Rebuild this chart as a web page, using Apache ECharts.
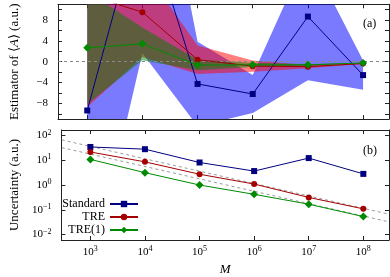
<!DOCTYPE html>
<html><head><meta charset="utf-8">
<script src="https://cdn.jsdelivr.net/npm/echarts@6/dist/echarts.min.js"></script>
<style>html,body{margin:0;padding:0;background:#fff}#c{width:390px;height:277px}</style>
</head><body><div id="c"></div>
<script>
// ---- data ----
const M = [1e3, 1e4, 1e5, 1e6, 1e7, 1e8];
const estStandard = [-9.35, 29.5, -4.26, -6.19, 8.65, -2.57];
const estTRE = [12.8, 9.5, 0.38, -0.85, -0.95, -0.35];
const estTRE1 = [2.65, 3.42, -0.64, -0.6, -0.6, -0.25];
const uncStandard = [34.3, 27.9, 8.1, 3.65, 12.2, 2.81];
const uncTRE = [21.5, 8.6, 2.72, 1.09, 0.315, 0.109];
const uncTRE1 = [10.8, 3.15, 1.0, 0.42, 0.168, 0.053];
const refM = [300, 3e8];
const refUpper = [66, 0.066];
const refLower = [32.3, 0.0323];
const trueValue = 0;
const estTicks = [-10, -8, -6, -4, -2, 0, 2, 4, 6, 8, 10];
const estLabels = [-8, -4, 0, 4, 8];
const mExponents = [3, 4, 5, 6, 7, 8];
const uncExponents = [-2, -1, 0, 1, 2];
const seriesNames = ['Standard', 'TRE', 'TRE(1)'];

// ---- style ----
const FONT = 'Liberation Serif';
const C_STD = '#000080', C_TRE = '#a50000', C_TRE1 = '#008a00';
const B_STD = 'rgba(0,0,255,0.52)', B_TRE = 'rgba(255,0,0,0.5)', B_TRE1 = 'rgba(0,128,0,0.5)';
const AX = {color: '#222', width: 1};
const lg = Math.log10;
const XMIN = 2.47, XMAX = 8.47;

function band(vals, uncs, color, z) {
  return {
    type: 'custom', coordinateSystem: 'cartesian2d', xAxisIndex: 0, yAxisIndex: 0,
    silent: true, z: z,
    data: M.map((m, i) => [lg(m), vals[i] - uncs[i], vals[i] + uncs[i]]),
    encode: {x: 0, y: [1, 2]},
    renderItem: function (params, api) {
      if (params.dataIndex !== 0) return null;
      const up = M.map((m, i) => api.coord([lg(m), vals[i] + uncs[i]]));
      const lo = M.map((m, i) => api.coord([lg(m), vals[i] - uncs[i]])).reverse();
      const cs = params.coordSys;
      return {
        type: 'polygon', shape: {points: up.concat(lo)}, style: {fill: color},
        clipPath: {type: 'rect', shape: {x: cs.x, y: cs.y, width: cs.width, height: cs.height}}
      };
    }
  };
}
function line(name, xi, yi, vals, color, symbol, size, toLog, z) {
  return {
    name: name, type: 'line', xAxisIndex: xi, yAxisIndex: yi, z: z,
    data: M.map((m, i) => [lg(m), toLog ? lg(vals[i]) : vals[i]]),
    symbol: symbol, symbolSize: size, clip: true,
    lineStyle: {color: color, width: 1}, itemStyle: {color: color},
    emphasis: {disabled: true}, animation: false
  };
}
function expLabel(v) {
  const e = v < 0 ? '\u2212' + (-v) : '' + v;
  return '{b|10}{s|' + e + '}';
}
const rich = {
  b: {fontFamily: FONT, fontSize: 11, color: '#000'},
  s: {fontFamily: FONT, fontSize: 8, color: '#000', padding: [0, 0, 6, 0]}
};
function xAx(grid, pos, labels, name) {
  return {
    gridIndex: grid, type: 'value', min: XMIN, max: XMAX, position: pos,
    axisLine: {show: true, onZero: false, lineStyle: AX},
    axisTick: {show: true, inside: true, length: 4, customValues: mExponents, lineStyle: AX},
    axisLabel: labels ? {show: true, customValues: mExponents, formatter: expLabel, rich: rich, margin: 5} : {show: false},
    splitLine: {show: false},
    name: name || '', nameLocation: 'middle', nameGap: 23,
    nameTextStyle: {fontFamily: FONT, fontSize: 13, fontStyle: 'italic', color: '#000'}
  };
}
const first = [[0, 0], [1, 0], [0, 1], [1, 1]];
const option = {
  animation: false,
  grid: [
    {left: 49, top: 4.3, width: 340, height: 114.8},
    {left: 49, top: 130, width: 340, height: 118.4}
  ],
  xAxis: [
    xAx(0, 'bottom', false), xAx(0, 'top', false),
    xAx(1, 'bottom', true, 'M'), xAx(1, 'top', false)
  ],
  yAxis: [
    {gridIndex: 0, type: 'value', min: -11, max: 11, position: 'left',
      axisLine: {show: true, lineStyle: AX},
      axisTick: {show: true, inside: true, length: 4, customValues: estTicks, lineStyle: AX},
      axisLabel: {show: true, customValues: estLabels, margin: 10, fontFamily: FONT, fontSize: 11, color: '#000',
        formatter: v => v < 0 ? '\u2212' + (-v) : '' + v},
      splitLine: {show: false},
      name: 'Estimator of \u27e8{i|A}\u27e9 (a.u.)', nameLocation: 'middle', nameGap: 37,
      nameTextStyle: {fontFamily: FONT, fontSize: 13, color: '#000',
        rich: {i: {fontFamily: FONT, fontSize: 13, fontStyle: 'italic', color: '#000'}}}},
    {gridIndex: 0, type: 'value', min: -11, max: 11, position: 'right',
      axisLine: {show: true, lineStyle: AX},
      axisTick: {show: true, inside: true, length: 4, customValues: estTicks, lineStyle: AX},
      axisLabel: {show: false}, splitLine: {show: false}},
    {gridIndex: 1, type: 'value', min: -2.22, max: 2.22, position: 'left',
      axisLine: {show: true, lineStyle: AX},
      axisTick: {show: true, inside: true, length: 4, customValues: uncExponents, lineStyle: AX},
      axisLabel: {show: true, customValues: uncExponents, margin: 10, formatter: expLabel, rich: rich},
      splitLine: {show: false},
      name: 'Uncertainty (a.u.)', nameLocation: 'middle', nameGap: 37,
      nameTextStyle: {fontFamily: FONT, fontSize: 13, color: '#000'}},
    {gridIndex: 1, type: 'value', min: -2.22, max: 2.22, position: 'right',
      axisLine: {show: true, lineStyle: AX},
      axisTick: {show: true, inside: true, length: 4, customValues: uncExponents, lineStyle: AX},
      axisLabel: {show: false}, splitLine: {show: false}}
  ],
  legend: {
    data: seriesNames, orient: 'vertical', align: 'right', right: 251, top: 198,
    itemWidth: 28, itemHeight: 8, itemGap: 1, padding: 0,
    textStyle: {fontFamily: FONT, fontSize: 12, color: '#000'}
  },
  graphic: [
    {type: 'text', left: 363, top: 18, style: {text: '(a)', font: '12px "Liberation Serif"', fill: '#000'}},
    {type: 'text', left: 363, top: 145, style: {text: '(b)', font: '12px "Liberation Serif"', fill: '#000'}}
  ],
  series: [
    band(estStandard, uncStandard, B_STD, 1),
    band(estTRE, uncTRE, B_TRE, 2),
    band(estTRE1, uncTRE1, B_TRE1, 3),
    Object.assign(line('Standard', 0, 0, estStandard, C_STD, 'rect', 6, false, 5), {
      markLine: {silent: true, symbol: 'none', label: {show: false},
        lineStyle: {color: '#888', type: [3, 3], width: 1}, data: [{yAxis: trueValue}]}
    }),
    line('TRE', 0, 0, estTRE, C_TRE, 'circle', 6, false, 6),
    line('TRE(1)', 0, 0, estTRE1, C_TRE1, 'diamond', 8, false, 7),
    {type: 'line', xAxisIndex: 2, yAxisIndex: 2, silent: true, symbol: 'none', z: 2,
      data: refM.map((m, i) => [lg(m), lg(refUpper[i])]),
      lineStyle: {color: '#999', type: [3, 3], width: 1}},
    {type: 'line', xAxisIndex: 2, yAxisIndex: 2, silent: true, symbol: 'none', z: 2,
      data: refM.map((m, i) => [lg(m), lg(refLower[i])]),
      lineStyle: {color: '#999', type: [3, 3], width: 1}},
    line('Standard', 2, 2, uncStandard, C_STD, 'rect', 6, true, 5),
    line('TRE', 2, 2, uncTRE, C_TRE, 'circle', 6, true, 6),
    line('TRE(1)', 2, 2, uncTRE1, C_TRE1, 'diamond', 8, true, 7)
  ]
};
const chart = echarts.init(document.getElementById('c'), null, {renderer: 'canvas'});
chart.setOption(option);
</script></body></html>
